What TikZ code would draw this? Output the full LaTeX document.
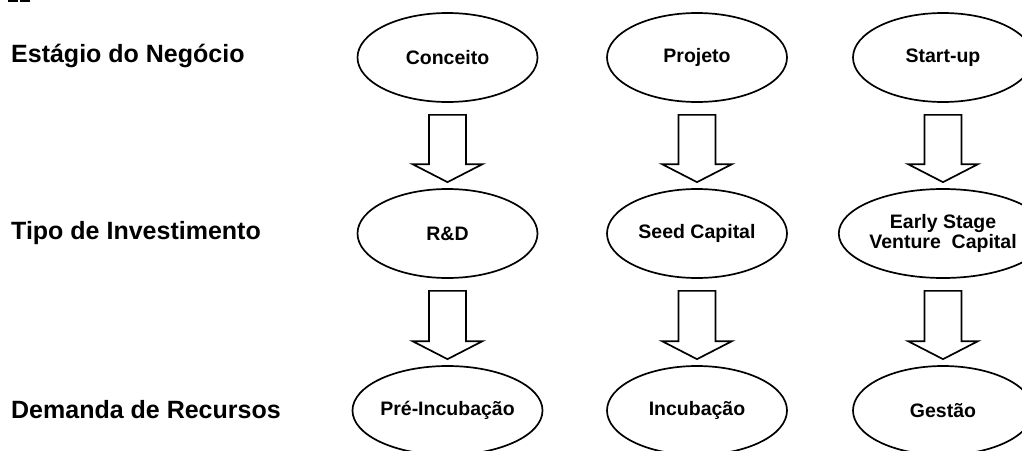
\documentclass[tikz,border=0pt]{standalone}
\usepackage{fontspec}
\setmainfont{Liberation Sans}
\usetikzlibrary{shapes.geometric,calc}
\tikzset{
  stage/.style={ellipse, draw=black, line width=1.7pt, minimum width=180pt, minimum height=89pt, inner sep=0pt, font=\fontsize{19.5}{20}\selectfont\bfseries, align=center},
  rowlabel/.style={anchor=west, inner sep=0pt, font=\fontsize{25}{28}\selectfont\bfseries},
  blockarrow/.style={draw=black, line width=1.7pt, fill=white, line join=miter}
}
\newcommand\blockarr[2]{%
  \draw[blockarrow] let \p1=(#1.south), \p2=(#2.north) in
    (\x1-18.5,\y1-12) -- (\x1-18.5,\y2+24) -- (\x1-35,\y2+24) -- (\x1,\y2+6)
    -- (\x1+35,\y2+24) -- (\x1+18.5,\y2+24) -- (\x1+18.5,\y1-12) -- cycle;}
\begin{document}
\begin{tikzpicture}[x=1pt,y=-1pt]
\useasboundingbox (0,0) rectangle (1022,450);
\clip (0,0) rectangle (1022,450);
% cropped fragment at top-left
\fill[black] (8,0) rectangle (18,1.8);
\fill[black] (20,0) rectangle (30,1.8);
% row labels
\node[rowlabel] (l1) at (11,56) {Estágio do Negócio};
\node[rowlabel] (l2) at (11,233) {Tipo de Investimento};
\node[rowlabel] (l3) at (11,410) {Demanda de Recursos};
% ellipses
\node[stage] (a1) at (447.5,57.5) {Conceito};
\node[stage] (b1) at (697,57.5) {Projeto};
\node[stage] (c1) at (943,57.5) {Start-up};
\node[stage] (a2) at (447.5,233.5) {R\&D};
\node[stage] (b2) at (697,233.5) {Seed Capital};
\node[stage] (c2) at (943,233.5) {Early Stage\\Venture\ \ Capital};
\node[stage] (a3) at (447.5,410.5) {Pré-Incubação};
\node[stage] (b3) at (697,410.5) {Incubação};
\node[stage] (c3) at (943,410.5) {Gestão};
% block arrows
\blockarr{a1}{a2}
\blockarr{b1}{b2}
\blockarr{c1}{c2}
\blockarr{a2}{a3}
\blockarr{b2}{b3}
\blockarr{c2}{c3}
\end{tikzpicture}
\end{document}
